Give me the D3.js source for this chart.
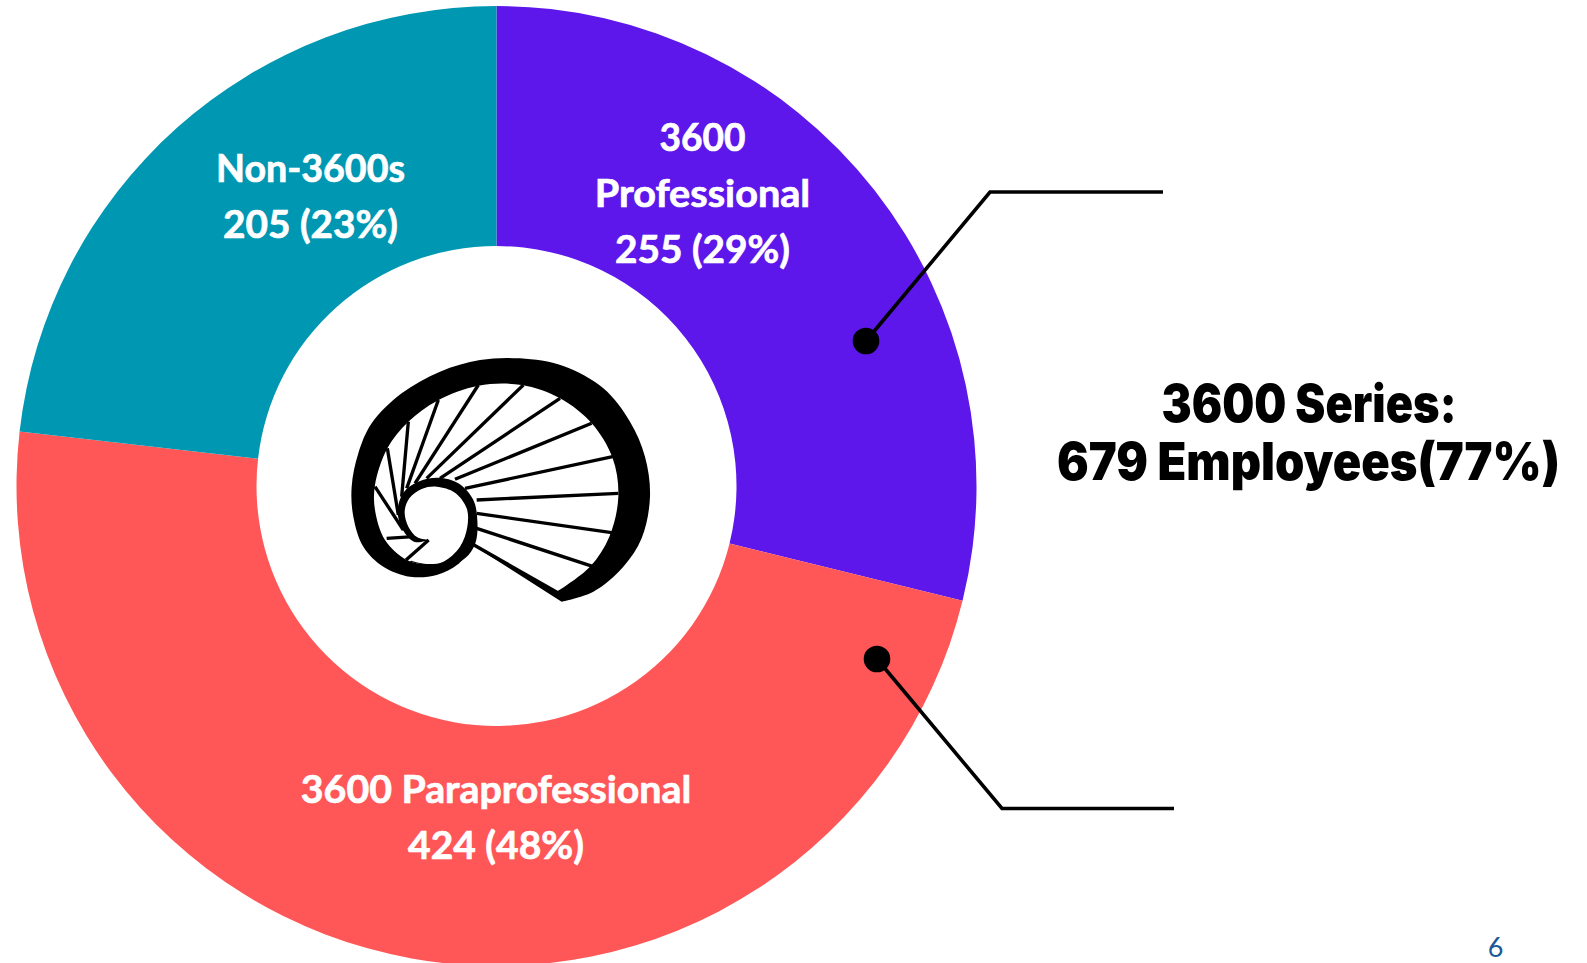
<!DOCTYPE html>
<html><head><meta charset="utf-8">
<script src="https://cdn.jsdelivr.net/npm/d3@7"></script>
<style>html,body{margin:0;padding:0;background:#fff;overflow:hidden}svg{display:block}</style>
</head><body><svg id="c" width="1587" height="963"></svg>
<script>
const categories = ["3600 Professional", "3600 Paraprofessional", "Non-3600s"];
const employees = [255, 424, 205];
const shares = ["29%", "48%", "23%"];
const sliceColors = ["#5E17EB", "#FF5757", "#0097B2"];
const labelLines = [["3600", "Professional", "255 (29%)"], ["3600 Paraprofessional", "424 (48%)"], ["Non-3600s", "205 (23%)"]];
const labelWidths = [[86, 215.5, 175], [390.5, 176], [189, 175]];
const summaryLines = ["3600 Series:", "679 Employees(77%)"];

const svg = d3.select("#c");
const cx = 496.5, cy = 486, R = 480, r = 240;
const pie = d3.pie().sort(null).value(d => d);
const arc = d3.arc().innerRadius(r).outerRadius(R);
const g = svg.append("g").attr("transform", `translate(${cx},${cy})`);
g.selectAll("path").data(pie(employees)).join("path").attr("d", arc).attr("fill", (d, i) => sliceColors[i]);

// scales a text horizontally about its centre to a wanted width
function place(text, x, y, width) {
  text.attr("text-anchor", "middle");
  const k = width / text.node().getComputedTextLength();
  text.attr("transform", `translate(${x},${y}) scale(${k},1)`);
}

// slice labels
const labelAnchors = [[702.5, 151], [496, 803], [310.5, 182]];
const lineStep = 56;
labelLines.forEach((lines, i) => {
  lines.forEach((t, j) => {
    const el = svg.append("text").attr("fill", "#fff").attr("stroke", "#fff").attr("stroke-width", 0.7)
      .attr("font-family", "Lato, sans-serif").attr("font-weight", 700).attr("font-size", 38)
      .text(t);
    place(el, labelAnchors[i][0], labelAnchors[i][1] + j * lineStep, labelWidths[i][j]);
  });
});

// summary text
[[1309, 422, 295], [1308.5, 480, 503]].forEach((p, i) => {
  const el = svg.append("text")
    .attr("font-family", "Inter, sans-serif").attr("font-weight", 900).attr("font-size", 52)
    .attr("fill", "#000").text(summaryLines[i]);
  place(el, p[0], p[1], p[2]);
});

// leader lines
const line = d3.line();
[[[866, 341], [990, 192], [1163, 192]], [[877, 659], [1002, 808.5], [1174, 808.5]]].forEach(pts => {
  svg.append("path").attr("d", line(pts)).attr("fill", "none").attr("stroke", "#000").attr("stroke-width", 3.6);
  svg.append("circle").attr("cx", pts[0][0]).attr("cy", pts[0][1]).attr("r", 13.3).attr("fill", "#000");
});

// page number
svg.append("text").attr("x", 1495.5).attr("y", 957).attr("text-anchor", "middle")
  .attr("font-family", "Lato, sans-serif").attr("font-size", 27).attr("fill", "#1B5A96").text("6");

// shell logo
const logo = svg.append("g").attr("transform", "translate(330,340) scale(0.33333)");
const smooth = d3.line().curve(d3.curveCatmullRom.alpha(0.5));
const closed = pts => smooth(pts) + "Z";
const shellOuter = [[695,785],[790,755],[880,680],[935,595],[960,470],[945,350],[900,245],[820,145],[700,78],[570,55],[450,60],[330,95],[215,160],[125,250],[85,340],[65,440],[70,530],[100,620],[160,680],[240,710],[320,705],[385,672],[432,618]];
const shellInner = [[680,755],[780,680],[838,590],[865,470],[848,355],[785,250],[690,175],[575,135],[445,137],[322,182],[235,245],[172,325],[135,435],[135,510],[165,600],[230,660],[290,672],[350,660],[395,635],[432,612]];
const ringOuter = [[296,600],[255,606],[222,575],[203,515],[220,458],[265,425],[325,413],[385,430],[430,480],[442,540],[436,610],[405,655],[340,680],[240,665]];
const ringInner = [[296,600],[262,592],[235,560],[224,515],[238,475],[275,447],[320,440],[375,458],[410,505],[412,560],[390,620],[340,665],[290,672],[236,660]];
logo.append("path").attr("fill", "#000").attr("d", closed(shellOuter));
logo.append("path").attr("fill", "#fff").attr("d", closed(shellInner));
const spokes = [[440,480,865,460],[440,520,845,578],[440,565,790,680],[432,615,690,762],[405,445,848,350],[375,418,785,250],[330,415,690,175],[290,415,580,135],[255,430,445,135],[230,445,325,180],[215,470,235,245],[205,525,172,325],[220,570,135,440],[170,595,250,590]];
logo.selectAll("line").data(spokes).join("line")
  .attr("x1", d => d[0]).attr("y1", d => d[1]).attr("x2", d => d[2]).attr("y2", d => d[3])
  .attr("stroke", "#000").attr("stroke-width", 10);
logo.append("path").attr("fill", "#000").attr("d", closed(ringOuter));
logo.append("path").attr("fill", "#fff").attr("d", closed(ringInner));
logo.append("line").attr("x1", 228).attr("y1", 660).attr("x2", 296).attr("y2", 600).attr("stroke", "#000").attr("stroke-width", 10);
</script></body></html>
